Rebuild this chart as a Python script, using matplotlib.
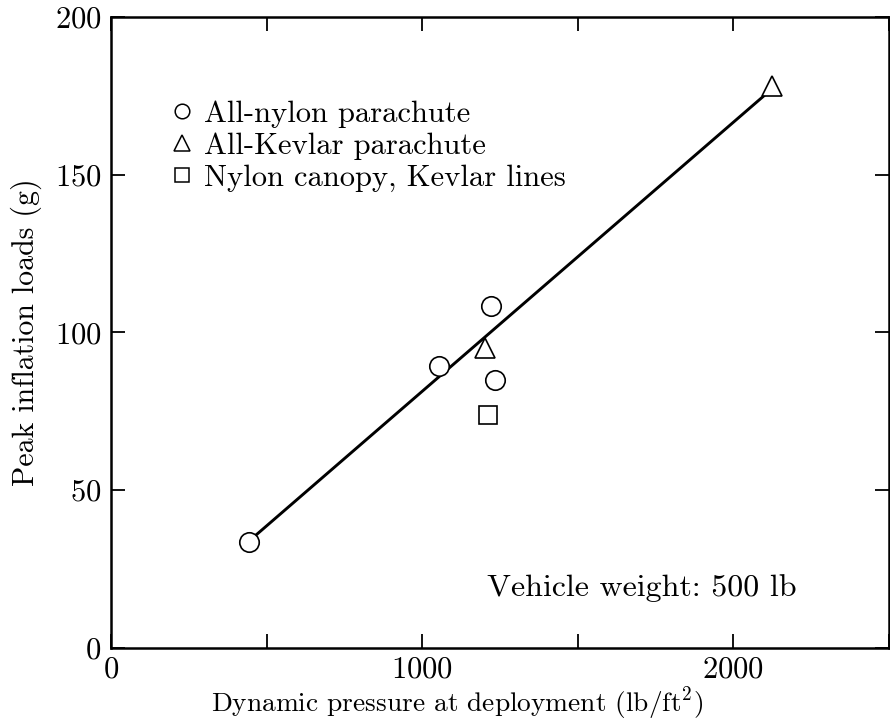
import matplotlib.pyplot as plt
from matplotlib.lines import Line2D

plt.rcParams['font.family'] = ['cmr10', 'DejaVu Serif']
plt.rcParams['mathtext.fontset'] = 'cm'
plt.rcParams['axes.formatter.use_mathtext'] = True

# Peak inflation loads vs dynamic pressure, by parachute type
nylon_q = [445, 1053, 1222, 1235]
nylon_g = [33.5, 89.5, 108.5, 85]
kevlar_q = [1203, 2125]
kevlar_g = [95, 178]
hybrid_q = [1213]
hybrid_g = [74]

# straight-line fit drawn through the data
fit_q = [445, 2110]
fit_g = [34, 176]

x_major = [0, 1000, 2000]
x_minor = [500, 1500, 2500]
y_ticks = [0, 50, 100, 150, 200]

fig = plt.figure(figsize=(8.9, 7.24), dpi=100)
ax = fig.add_axes([0.1247, 0.105, 0.874, 0.8715])

ax.plot(fit_q, fit_g, color='black', lw=2.1, solid_capstyle='butt', zorder=2)

mk = dict(linestyle='none', mfc='white', mec='black', mew=1.2, zorder=3)
ax.plot(nylon_q, nylon_g, marker='o', ms=14, **mk)
ax.plot(kevlar_q, kevlar_g, marker='^', ms=15, **mk)
ax.plot(hybrid_q, hybrid_g, marker='s', ms=13, **mk)

ax.set_xlim(0, 2500)
ax.set_ylim(0, 200)
ax.set_xticks(x_major)
ax.set_xticks(x_minor, minor=True)
ax.set_yticks(y_ticks)
ax.tick_params(which='both', direction='in', top=True, right=True,
               labelsize=22, width=1.3)
ax.tick_params(axis='y', pad=7)
ax.tick_params(axis='x', pad=6)
ax.tick_params(which='major', length=10)
ax.tick_params(which='minor', length=10)
for s in ax.spines.values():
    s.set_linewidth(1.8)

ax.set_xlabel(r'Dynamic pressure at deployment (lb/ft$^2$)', fontsize=19.7)
ax.xaxis.set_label_coords(0.445, -0.059)
ax.set_ylabel('Peak inflation loads (g)', fontsize=21.5)
ax.yaxis.set_label_coords(-0.089, 0.5)

ax.text(0.483, 0.095, 'Vehicle weight: 500 lb', transform=ax.transAxes,
        fontsize=23, ha='left', va='center')

handles = [
    Line2D([], [], marker='o', ms=10.5, mfc='white', mec='black', mew=1.1, ls='none'),
    Line2D([], [], marker='^', ms=11.5, mfc='white', mec='black', mew=1.1, ls='none'),
    Line2D([], [], marker='s', ms=10, mfc='white', mec='black', mew=1.1, ls='none'),
]
labels = ['All-nylon parachute', 'All-Kevlar parachute', 'Nylon canopy, Kevlar lines']
ax.legend(handles, labels, loc='upper left', bbox_to_anchor=(0.08, 0.868),
          frameon=False, fontsize=22, handlelength=0.6, handletextpad=0.4,
          labelspacing=0.15, borderpad=0, borderaxespad=0)

fig.savefig('out.png', dpi=100)
